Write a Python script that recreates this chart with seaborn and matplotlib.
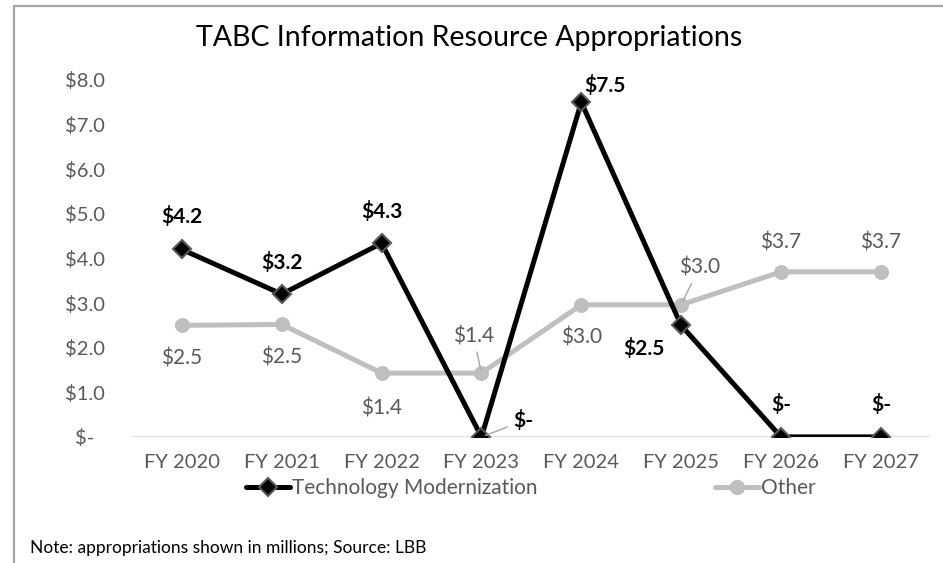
# TABC Information Resource Appropriations - line chart
import pandas as pd
import matplotlib.pyplot as plt
import seaborn as sns
from matplotlib.lines import Line2D

# Data (millions)
years = ["FY 2020", "FY 2021", "FY 2022", "FY 2023", "FY 2024", "FY 2025", "FY 2026", "FY 2027"]
tech = [4.2, 3.2, 4.34, 0.0, 7.5, 2.5, 0.0, 0.0]
other = [2.5, 2.52, 1.43, 1.43, 2.96, 2.96, 3.7, 3.7]
yticks = [0, 1, 2, 3, 4, 5, 6, 7, 8]

df = pd.DataFrame({"year": years, "tech": tech, "other": other})
df["x"] = range(len(years))

sns.set_style("white")
plt.rcParams["font.family"] = ["Lato", "DejaVu Sans"]

fig = plt.figure(figsize=(9.43, 5.63), dpi=100)
ax = fig.add_axes([0.14, 0.224, 0.847, 0.634])

# baseline gridline
ax.axhline(0, color="#D9D9D9", lw=1.2, zorder=0)

sns.lineplot(data=df, x="x", y="other", ax=ax, color="#BFBFBF", lw=3.6,
             marker="o", markersize=10, markeredgecolor="#BFBFBF",
             label="Other", zorder=2)
sns.lineplot(data=df, x="x", y="tech", ax=ax, color="black", lw=3.6,
             marker="D", markersize=9, markeredgecolor="#595959", markeredgewidth=1.5,
             label="Technology Modernization", zorder=3)


def fmt(v):
    return "$-" if v == 0 else f"${v:.1f}"


# label offsets in pixels (dx, dy)
tech_off = [(0, 33), (0, 32), (0, 32), (42, 16), (24, 17), (-37, -23), (0, 32), (0, 32)]
other_off = [(0, -33), (0, -33), (0, -35), (-8, 37), (0, -33), (18, 37), (0, 29), (0, 29)]
tech_lead = [False, False, False, True, False, False, False, False]
other_lead = [False, False, False, True, False, True, False, False]

for i, v in enumerate(tech):
    ap = dict(arrowstyle="-", color="#A6A6A6", lw=1, shrinkA=2, shrinkB=3) if tech_lead[i] else None
    ax.annotate(fmt(v), (i, v), xytext=tech_off[i], textcoords="offset pixels",
                ha="center", va="center", fontsize=15, fontweight="bold",
                color="black", arrowprops=ap, zorder=5)
for i, v in enumerate(other):
    ap = dict(arrowstyle="-", color="#A6A6A6", lw=1, shrinkA=2, shrinkB=3) if other_lead[i] else None
    ax.annotate(fmt(v), (i, v), xytext=other_off[i], textcoords="offset pixels",
                ha="center", va="center", fontsize=15, color="#595959",
                arrowprops=ap, zorder=5)

ax.set_xlim(-0.5, len(years) - 0.5)
ax.set_ylim(0, 8)
ax.set_xticks(df["x"])
ax.set_xticklabels(years)
ax.set_yticks(yticks)
ax.set_yticklabels([fmt(float(t)) for t in yticks])
ax.tick_params(axis="both", labelsize=14.5, colors="#595959", length=0)
ax.tick_params(axis="x", pad=12)
ax.tick_params(axis="y", pad=34)
for lab in ax.get_yticklabels():
    lab.set_horizontalalignment("center")
ax.set_xlabel("")
ax.set_ylabel("")
for s in ax.spines.values():
    s.set_visible(False)
ax.get_legend().remove()

fig.suptitle("TABC Information Resource Appropriations", x=0.498, y=0.932,
             fontsize=20.5, color="black", va="center")

handles = [
    Line2D([], [], color="black", lw=3.6, marker="D", markersize=9,
           markeredgecolor="#595959", markeredgewidth=1.5),
    Line2D([], [], color="#BFBFBF", lw=3.6, marker="o", markersize=10),
]
fig.legend(handles, ["Technology Modernization", "Other"], loc="center",
           bbox_to_anchor=(0.563, 1 - 488 / 563), ncol=2, frameon=False,
           fontsize=15, labelcolor="#595959", handlelength=2.1,
           handletextpad=0.1, columnspacing=8.5)

fig.text(30 / 943, 1 - 548 / 563, "Note: appropriations shown in millions; Source: LBB",
         fontsize=12.5, color="black", va="center", ha="left")

# outer frame (left and top edges)
fig.add_artist(Line2D([14 / 943, 14 / 943], [0, 1 - 6 / 563], color="#A6A6A6", lw=1.6,
                      transform=fig.transFigure))
fig.add_artist(Line2D([14 / 943, 1], [1 - 6 / 563, 1 - 6 / 563], color="#A6A6A6", lw=1.6,
                      transform=fig.transFigure))

fig.savefig("out.png", dpi=100)
